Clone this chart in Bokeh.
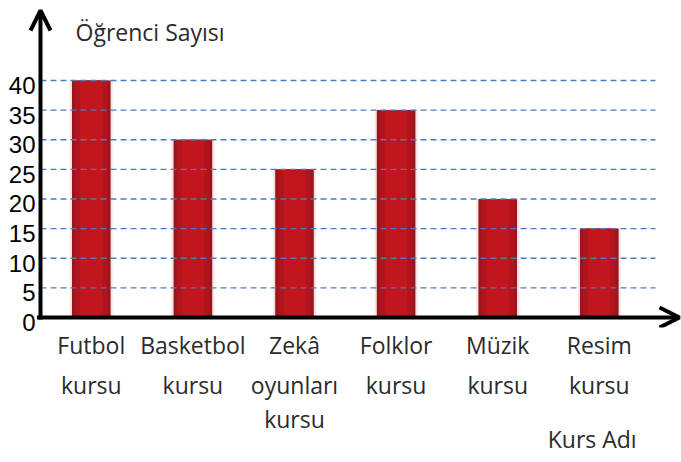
from bokeh.plotting import figure
from bokeh.models import Range1d, LinearAxis, FixedTicker, Arrow, OpenHead, Label
from bokeh.embed import file_html
from bokeh.resources import INLINE

# ---- data ----
categories = ["Futbol kursu", "Basketbol kursu", "Zekâ oyunları kursu",
              "Folklor kursu", "Müzik kursu", "Resim kursu"]
label_line1 = ["Futbol", "Basketbol", "Zekâ", "Folklor", "Müzik", "Resim"]
label_line2 = ["kursu", "kursu", "oyunları", "kursu", "kursu", "kursu"]
label_line3 = ["", "", "kursu", "", "", ""]
students = [40, 30, 25, 35, 20, 15]
y_ticks = [0, 5, 10, 15, 20, 25, 30, 35, 40]
y_title = "Öğrenci Sayısı"
x_title = "Kurs Adı"

xs = [i + 0.5 for i in range(len(categories))]

# ---- layout constants ----
Y0, Y1 = -1.688, 53.5
X0, X1 = -0.1476, 6.309
GRID_END = 6.053
label_shift = 0.844

p = figure(width=681, height=462, output_backend="svg", toolbar_location=None,
           x_range=Range1d(X0, X1), y_range=Range1d(Y0, Y1),
           x_axis_location=None, y_axis_location=None,
           min_border_left=25, min_border_right=0, min_border_top=0,
           min_border_bottom=135, outline_line_color=None,
           background_fill_color="white", border_fill_color="white")
p.xgrid.grid_line_color = None
p.ygrid.grid_line_color = None
p.extra_y_ranges = {"lab": Range1d(Y0 + label_shift, Y1 + label_shift)}

# bars (layered for a soft gradient)
p.vbar(x=xs, top=students, bottom=0, width=0.42, fill_color="#f4c9c9", fill_alpha=0.55, line_color=None)
p.vbar(x=xs, top=students, bottom=0, width=0.38, fill_color="#9a161c", line_color=None)
p.vbar(x=xs, top=students, bottom=0, width=0.32, fill_color="#b0141c", line_color=None)
p.vbar(x=xs, top=students, bottom=0, width=0.22, fill_color="#c2161f", line_color=None)

# dashed horizontal grid lines drawn over the bars
grid_vals = [t for t in y_ticks if t > 0]
p.segment(x0=[0] * len(grid_vals), x1=[GRID_END] * len(grid_vals), y0=grid_vals, y1=grid_vals,
          line_color="#4a7cc4", line_width=1.3, line_dash="6 4")

# arrows for the axes
p.add_layout(Arrow(end=OpenHead(size=20, line_width=4, line_color="black"),
                   x_start=0, y_start=-0.35, x_end=0, y_end=51.81,
                   line_width=4, line_color="black"))
p.add_layout(Arrow(end=OpenHead(size=20, line_width=4, line_color="black"),
                   x_start=-0.034, y_start=0, x_end=6.289, y_end=0,
                   line_width=4, line_color="black"))

# y tick labels
yax = LinearAxis(y_range_name="lab", ticker=FixedTicker(ticks=y_ticks),
                 axis_line_color=None, major_tick_line_color=None,
                 minor_tick_line_color=None, major_tick_out=0, major_tick_in=0,
                 major_label_standoff=-10, major_label_text_font="Liberation Sans",
                 major_label_text_font_size="24px", major_label_text_color="black")
p.add_layout(yax, "left")

# stacked category label axes
def text_axis(ticks, labels, standoff):
    return LinearAxis(ticker=FixedTicker(ticks=ticks),
                      major_label_overrides=dict(zip(ticks, labels)),
                      axis_line_color=None, major_tick_line_color=None,
                      minor_tick_line_color=None, major_tick_out=0, major_tick_in=0,
                      major_label_standoff=standoff, major_label_text_font="Open Sans",
                      major_label_text_font_size="23px", major_label_text_color="#2b2b2b")

def cat_axis(lines, standoff):
    ticks = [x for x, t in zip(xs, lines) if t]
    labels = [t for t in lines if t]
    return text_axis(ticks, labels, standoff)

p.add_layout(cat_axis(label_line1, 1), "below")
p.add_layout(cat_axis(label_line2, 5), "below")
p.add_layout(cat_axis(label_line3, -1), "below")
p.add_layout(text_axis([5.43], [x_title], -15), "below")

p.add_layout(Label(x=0.345, y=48.1, text=y_title, text_font="Open Sans",
                   text_font_size="23px", text_color="#2b2b2b", text_baseline="alphabetic"))

open("out.html", "w").write(file_html(p, INLINE))
